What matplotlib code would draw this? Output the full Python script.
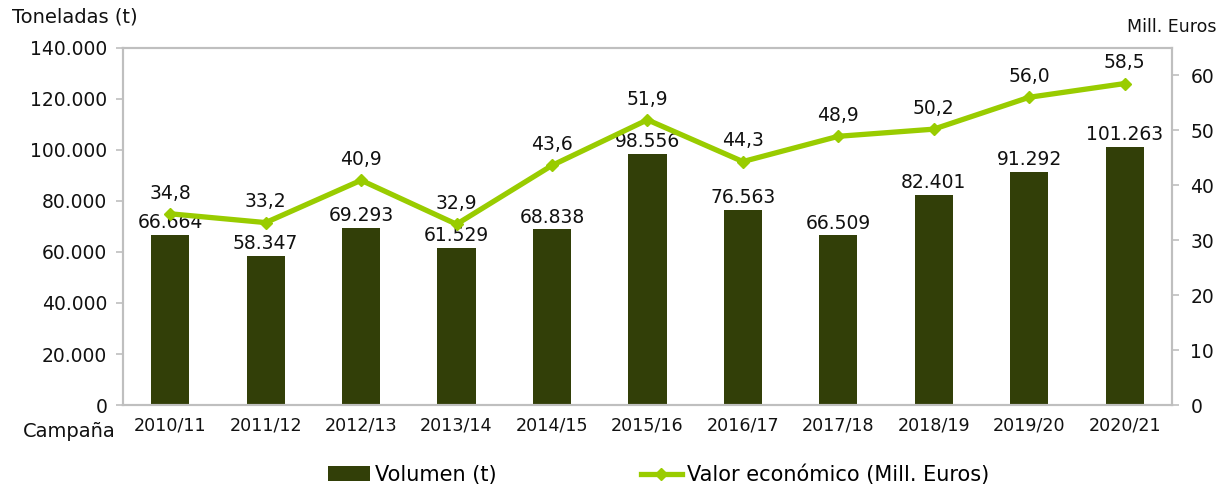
import numpy as np
import matplotlib.pyplot as plt
from matplotlib.ticker import FuncFormatter

campanas = ["2010/11", "2011/12", "2012/13", "2013/14", "2014/15", "2015/16",
            "2016/17", "2017/18", "2018/19", "2019/20", "2020/21"]
volumen = [66664, 58347, 69293, 61529, 68838, 98556, 76563, 66509, 82401, 91292, 101263]
valor = [34.8, 33.2, 40.9, 32.9, 43.6, 51.9, 44.3, 48.9, 50.2, 56.0, 58.5]

BAR_COLOR = "#323F08"
LINE_COLOR = "#99CC00"
GRID = "#BFBFBF"
TXT = "#111111"

plt.rcParams["font.family"] = ["DejaVu Sans"]


def miles(v, pos=None):
    return f"{int(round(v)):,}".replace(",", ".")


fig = plt.figure(figsize=(12.25, 4.88), dpi=100)
ax = fig.add_axes([0.100, 0.170, 0.857, 0.732])
x = np.arange(len(campanas))

bars = ax.bar(x, volumen, width=0.4, color=BAR_COLOR, label="Volumen (t)", zorder=2)
ax.set_ylim(0, 140000)
ax.set_yticks(np.arange(0, 140001, 20000))
ax.yaxis.set_major_formatter(FuncFormatter(miles))
ax.set_xlim(-0.5, len(campanas) - 0.5)
ax.set_xticks(x)
ax.set_xticklabels(campanas, fontsize=12.6, color=TXT)
ax.tick_params(axis="x", length=0, pad=8)
ax.tick_params(axis="y", labelsize=13.5, colors=GRID, labelcolor=TXT, length=5, width=1.2, pad=6)
for s in ax.spines.values():
    s.set_color(GRID)
    s.set_linewidth(1.5)

for xi, v in zip(x, volumen):
    ax.annotate(miles(v), (xi, v), xytext=(0, 2), textcoords="offset points",
                ha="center", va="bottom", fontsize=13.5, color=TXT, zorder=5)

ax2 = ax.twinx()
ax2.set_ylim(0, 65)
ax2.set_yticks(np.arange(0, 61, 10))
ax2.tick_params(axis="y", labelsize=13.5, colors=GRID, labelcolor=TXT, length=5, width=1.2, pad=8)
for s in ax2.spines.values():
    s.set_color(GRID)
    s.set_linewidth(1.5)
line, = ax2.plot(x, valor, color=LINE_COLOR, lw=3.8, marker="D", markersize=6,
                 label="Valor económico (Mill. Euros)", zorder=3)
for xi, v in zip(x, valor):
    ax2.annotate(f"{v:.1f}".replace(".", ","), (xi, v), xytext=(0, 8), textcoords="offset points",
                 ha="center", va="bottom", fontsize=13.5, color=TXT, zorder=5)

fig.text(0.010, 0.965, "Toneladas (t)", fontsize=14, color=TXT, ha="left", va="center")
fig.text(0.993, 0.945, "Mill. Euros", fontsize=12.5, color=TXT, ha="right", va="center")
fig.text(0.094, 0.115, "Campaña", fontsize=14, color=TXT, ha="right", va="center")

fig.legend([bars, line], ["Volumen (t)", "Valor económico (Mill. Euros)"],
           loc="center", bbox_to_anchor=(0.538, 0.027), ncol=2, frameon=False,
           fontsize=15, handlelength=2.0, columnspacing=6.9, handletextpad=0.25)

fig.savefig("out.png", dpi=100)
